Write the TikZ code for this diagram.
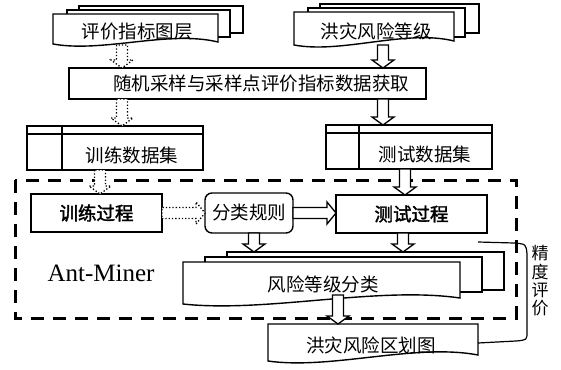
\documentclass[tikz,border=0pt]{standalone}
\usepackage{fontspec}
\setmainfont{Liberation Serif}
\newfontfamily\cjk{Noto Sans CJK SC}
\newfontfamily\cjkb[FakeBold=2]{Noto Sans CJK SC}
\usetikzlibrary{calc}
\tikzset{
  box/.style={draw, line width=1.4pt, fill=white},
  nbox/.style={draw, line width=1.4pt, fill=white, inner sep=0pt, outer sep=0pt},
  txt/.style={inner sep=0pt, font=\cjk\fontsize{18.5}{20}\selectfont},
  btxt/.style={inner sep=0pt, font=\cjkb\fontsize{18.5}{20}\selectfont},
  blockar/.style={draw, line width=1.3pt, fill=white, line join=miter},
  dotar/.style={blockar, dotted},
  frame/.style={draw, line width=3pt, dash pattern=on 13pt off 9pt},
}
% vertical downward block arrow: x and start y from #2, end y from #3
\newcommand\darrow[3][]{%
  \path[blockar,#1] let \p1=#2, \p2=#3 in
    (\x1-5.5pt,\y1) -- (\x1-5.5pt,\y2+8pt) -- (\x1-11pt,\y2+8pt) -- (\x1,\y2)
    -- (\x1+11pt,\y2+8pt) -- (\x1+5.5pt,\y2+8pt) -- (\x1+5.5pt,\y1) -- cycle;}
% rightward block arrow
\newcommand\rarrow[3][]{%
  \path[blockar,#1] let \p1=#2, \p2=#3 in
    (\x1,\y1-5.5pt) -- (\x2-9pt,\y1-5.5pt) -- (\x2-9pt,\y1-11pt) -- (\x2,\y1)
    -- (\x2-9pt,\y1+11pt) -- (\x2-9pt,\y1+5.5pt) -- (\x1,\y1+5.5pt) -- cycle;}
% document shape with wavy bottom: x0,y0,x1,yleft,yright
\newcommand\docfront[5]{%
  \draw[box] (#1,#2) -- (#1,#4) .. controls ({#1+0.3*(#3-#1)},{#4+9}) and ({#1+0.7*(#3-#1)},{#5-12}) .. (#3,#5) -- (#3,#2) -- cycle;}
\begin{document}
\begin{tikzpicture}[x=1pt,y=-1pt]
\useasboundingbox (0,0) rectangle (561,369);

% dashed Ant-Miner frame
\draw[frame] (15,180) rectangle (516,318);
\node[inner sep=0pt, font=\fontsize{25}{27}\selectfont] (am) at (101,273) {Ant-Miner};

% top-left document stack
\draw[box] (79,6) rectangle (243,33);
\draw[box] (67,10) rectangle (230,37);
\docfront{53}{14}{218}{44}{42}
\node[txt] (pj) at (137,32) {评价指标图层};

% top-right document stack
\draw[box] (320,4) rectangle (479,33);
\draw[box] (308,8) rectangle (465,37);
\docfront{294}{12}{454}{45}{41}
\node[txt] (hz) at (376,31) {洪灾风险等级};

% sampling box
\node[nbox, minimum width=357pt, minimum height=31pt] (big) at (247.5,83.5) {};
\node[txt] (bigt) at (261,84) {随机采样与采样点评价指标数据获取};

% training data table
\node[nbox, minimum width=176pt, minimum height=44pt] (train) at (115,148) {};
\draw[line width=1.4pt] (27,134) -- (203,134) (62,126) -- (62,170);
\node[txt] (traint) at (132,155) {训练数据集};

% test data table
\node[nbox, minimum width=166pt, minimum height=44pt] (test) at (409,147) {};
\draw[line width=1.4pt] (326,133) -- (492,133) (359,125) -- (359,169);
\node[txt] (testt) at (425,154) {测试数据集};

% process boxes
\node[nbox, minimum width=131pt, minimum height=38pt, btxt] (trp) at (96.5,213) {训练过程};
\node[nbox, minimum width=88pt, minimum height=40pt, rounded corners=7pt, txt] (rule) at (249,213) {分类规则};
\node[nbox, minimum width=151pt, minimum height=38pt, btxt] (tsp) at (411.5,214) {测试过程};

% risk classification stack
\draw[box] (227,252) rectangle (504,290);
\draw[box] (205,257) rectangle (482,292);
\docfront{183}{262}{460}{304}{298}
\node[txt] (risk) at (323,284) {风险等级分类};
\coordinate (riskback) at (227,252);

% flood map document
\docfront{268}{324}{478}{361}{355}
\node[txt] (flood) at (371,345) {洪灾风险区划图};
\coordinate (floodtop) at (371,324);

% accuracy bracket
\draw[line width=1.2pt] (478,242) -- (514,243) .. controls (526,244) .. (527,254)
  -- (527,332) .. controls (527,340) .. (516,341) -- (478,343);
\node[txt, align=center, font=\cjk\fontsize{17}{18.3}\selectfont] (acc) at (540,281) {精\\度\\评\\价};

% arrow anchor coordinates
\coordinate (a1) at (122,45);
\coordinate (a2) at (383,45);
\coordinate (x100) at (100,0);
\coordinate (x405) at (405,0);
\coordinate (x254) at (254,0);
\coordinate (x403) at (403,0);
\coordinate (a11) at (338,295);

% arrows
\darrow[dotar]{(a1)}{(big.north)}
\darrow{(a2)}{(big.north)}
\darrow[dotar]{(big.south -| a1)}{(train.north)}
\darrow{(big.south -| a2)}{(test.north)}
\darrow[dotar]{(train.south -| x100)}{(trp.north)}
\darrow{(test.south -| x405)}{(tsp.north)}
\rarrow[dotar]{(trp.east)}{(rule.west)}
\rarrow{(rule.east)}{(tsp.west)}
\darrow{(rule.south -| x254)}{(riskback)}
\darrow{(tsp.south -| x403)}{(riskback)}
\darrow{(a11)}{(floodtop)}
\end{tikzpicture}
\end{document}
